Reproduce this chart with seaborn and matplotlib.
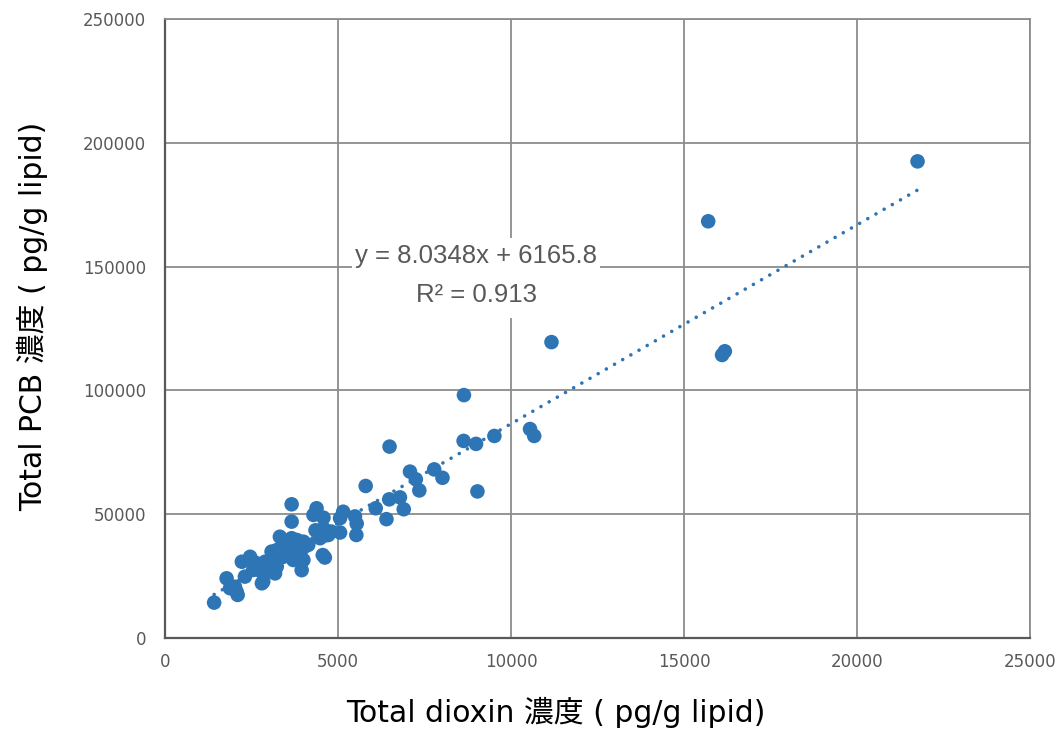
import matplotlib
matplotlib.use("Agg")
import matplotlib.pyplot as plt
import seaborn as sns
import numpy as np
import pandas as pd
from matplotlib.patches import Rectangle

dioxin = [21750, 15700, 16100, 16180, 11170, 8640, 8630, 8990, 9520, 10550,
          10670, 9030, 6490, 5800, 7080, 7250, 7350, 7780, 8020, 6480,
          6790, 6090, 6900, 6400, 5150, 5490, 5540, 5530, 5060, 5060,
          3660, 3660, 4380, 4290, 4580, 4580, 4480, 4720, 4560, 4620,
          3950, 3320, 3610, 3810, 4000, 4140, 3230, 3520, 3760, 4000,
          3710, 3420, 3130, 3040, 3180, 3080, 2800, 2460, 2220, 2550,
          2310, 1780, 1880, 2100, 2020, 1420, 2890, 2750, 4350, 4800,
          3660, 4000, 4640, 2840, 2070, 2700, 3230, 2600, 2900, 3400]
pcb = [192500, 168300, 114300, 115800, 119500, 98100, 79600, 78400, 81600, 84400,
       81600, 59200, 77300, 61400, 67200, 64100, 59600, 68100, 64700, 56000,
       56800, 52400, 52000, 48000, 51000, 49100, 46200, 41600, 42600, 48400,
       54000, 47000, 52400, 49700, 48600, 44300, 40300, 41600, 33500, 32500,
       27400, 40900, 38900, 39600, 38900, 37600, 35500, 34900, 34200, 31500,
       31500, 32800, 32800, 28800, 26100, 34900, 22100, 32800, 30800, 27500,
       24800, 24100, 20100, 17400, 20700, 14300, 30800, 29500, 43500, 43000,
       40300, 36500, 41500, 22800, 18700, 27500, 28800, 30500, 26500, 37000]

slope = 8.0348
intercept = 6165.8
r2_text = "0.913"

x_ticks = [0, 5000, 10000, 15000, 20000, 25000]
y_ticks = [0, 50000, 100000, 150000, 200000, 250000]

df = pd.DataFrame({"dioxin": dioxin, "pcb": pcb})

sns.set_style("white")
plt.rcParams['font.family'] = ['DejaVu Sans', 'Noto Sans CJK JP']

fig = plt.figure(figsize=(10.61, 7.31), dpi=100)
ax = fig.add_axes([165/1061, (731-638)/731, 865/1061, 619/731])

blue = "#2E75B6"
grid_c = "#8C8C8C"
txt_c = "#595959"

ax.set_xlim(x_ticks[0], x_ticks[-1])
ax.set_ylim(y_ticks[0], y_ticks[-1])
ax.set_xticks(x_ticks)
ax.set_yticks(y_ticks)
ax.grid(True, color=grid_c, linewidth=1.3, zorder=0)
ax.set_axisbelow(True)

# trendline
xl = np.array([min(dioxin), max(dioxin)])
ax.plot(xl, slope * xl + intercept, color=blue, linewidth=2.6,
        linestyle=(0, (0.01, 2.6)), dash_capstyle='round', zorder=2)

sns.scatterplot(data=df, x="dioxin", y="pcb", ax=ax, s=110, color=blue,
                edgecolor="none", linewidth=0, zorder=3)

for side in ["left", "bottom"]:
    ax.spines[side].set_color("#595959")
    ax.spines[side].set_linewidth(1.6)
for side in ["top", "right"]:
    ax.spines[side].set_color(grid_c)
    ax.spines[side].set_linewidth(1.3)

ax.tick_params(axis='both', length=0, labelsize=12, labelcolor=txt_c)
ax.tick_params(axis='y', pad=13.5)
ax.tick_params(axis='x', pad=11)

ax.set_xlabel("Total dioxin 濃度 ( pg/g lipid)", fontsize=21.5, color="black")
ax.set_ylabel("Total PCB 濃度 ( pg/g lipid)", fontsize=21.5, color="black")
ax.xaxis.set_label_coords((556-165)/865, (638-712)/619)
ax.xaxis.label.set_verticalalignment('center')
ax.yaxis.set_label_coords((33-165)/865, (638-316)/619)
ax.yaxis.label.set_verticalalignment('center')

# white box behind the trendline label
fig_h = 731
rect = Rectangle((352/1061, (fig_h-318)/fig_h), (600-352)/1061, (318-238)/fig_h,
                 transform=fig.transFigure, facecolor="white", edgecolor="none", zorder=4)
rect.set_clip_on(False)
ax.add_patch(rect)
fig.text(476/1061, 1-256/731, f"y = {slope}x + {intercept}", fontsize=18.5,
         color=txt_c, ha="center", va="center", zorder=6,
         family=['Liberation Sans', 'DejaVu Sans'])
fig.text(476/1061, 1-295/731, f"R² = {r2_text}", fontsize=18.5,
         color=txt_c, ha="center", va="center", zorder=6,
         family=['Liberation Sans', 'DejaVu Sans'])

fig.savefig("out.png", dpi=100)
